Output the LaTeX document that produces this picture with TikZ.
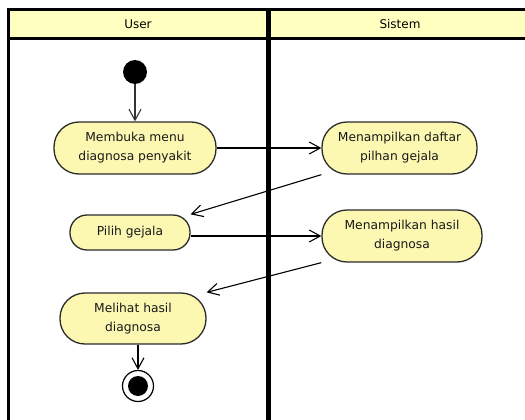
\documentclass[tikz,border=0pt]{standalone}
\usepackage{fontspec}
\setmainfont{DejaVu Sans}
\usetikzlibrary{arrows.meta}
\definecolor{laneHead}{HTML}{FFFFC0}
\definecolor{actFill}{HTML}{FCF8B2}
\definecolor{actEdge}{HTML}{2A2A2A}
\tikzset{
  activity/.style={draw=actEdge, line width=1.3pt, fill=actFill, align=center,
    font=\fontsize{12.3}{19}\selectfont, text=black!90, inner sep=0pt},
  flow/.style={line width=1.1pt, -{Straight Barb[length=11pt,width=12pt,line width=1.1pt]}},
  lane/.style={line width=3pt},
  lanetitle/.style={font=\fontsize{12}{14}\selectfont, inner sep=0pt},
}
\begin{document}
\begin{tikzpicture}[x=1pt,y=-1pt]
\useasboundingbox (0,0) rectangle (525,420);

% swimlanes
\fill[laneHead] (8,9.5) rectangle (530,38.5);
\draw[lane] (530,9.5) -- (8,9.5) -- (8,425);
\draw[lane] (8,38.5) -- (530,38.5);
\draw[line width=4.5pt] (268.5,9.5) -- (268.5,425);
\node[lanetitle] (userlane) at (138,24) {User};
\node[lanetitle] (systemlane) at (400,24) {Sistem};

% start and end
\node[circle, fill=black, minimum size=24pt, inner sep=0pt] (start) at (135,72) {};
\node[circle, draw=black, line width=1.2pt, fill=white, minimum size=31pt, inner sep=0pt] (fin) at (138,386) {};
\node[circle, fill=black, minimum size=20pt, inner sep=0pt] (finDot) at (fin.center) {};

% activities
\node[activity, rounded corners=25pt, minimum width=162pt, minimum height=52pt] (m1) at (135,148)
  {Membuka menu\\diagnosa penyakit};
\node[activity, rounded corners=25pt, minimum width=155pt, minimum height=52pt] (s1) at (399.5,148)
  {Menampilkan daftar\\pilhan gejala};
\node[activity, rounded corners=17pt, minimum width=120pt, minimum height=35pt] (m2) at (130,232.5)
  {Pilih gejala};
\node[activity, rounded corners=25pt, minimum width=160pt, minimum height=52pt] (s2) at (402,236)
  {Menampilkan hasil\\diagnosa};
\node[activity, rounded corners=25pt, minimum width=146pt, minimum height=51pt] (m3) at (133,318.5)
  {Melihat hasil\\diagnosa};

% control flows
\draw[flow, draw=black!80] (start) -- (m1);
\draw[flow] (m1.east) -- (s1.west);
\draw[flow] (s1.south west) -- (m2.north east);
\draw[flow] (m2.east |- s2.west) -- (s2.west);
\draw[flow] (s2.south west) -- (m3.north east);
\draw[flow] (m3.south -| fin) -- (fin.north);
\end{tikzpicture}
\end{document}
